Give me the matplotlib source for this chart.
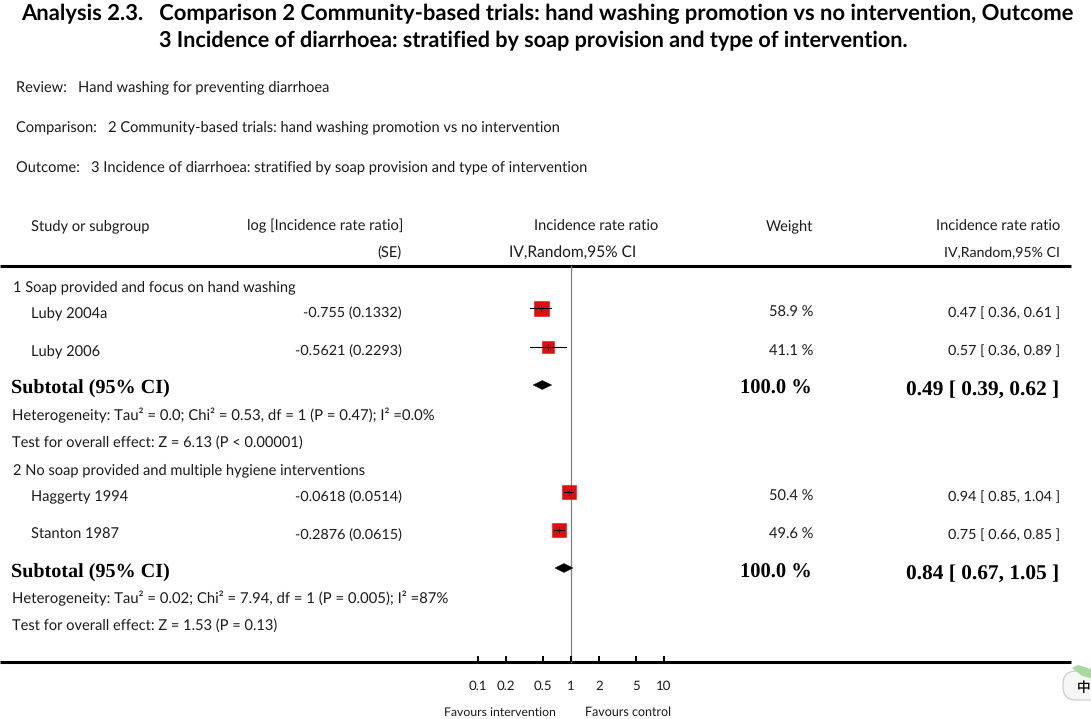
import numpy as np
import matplotlib
matplotlib.use("Agg")
import matplotlib.pyplot as plt
from matplotlib.patches import FancyBboxPatch, Polygon
from matplotlib.transforms import Affine2D

plt.rcParams["text.hinting"] = "no_hinting"

W, H = 1091, 719
SANS = "Lato"
SERIF = "Liberation Serif"

title_lines = ["Analysis 2.3.   Comparison 2 Community-based trials: hand washing promotion vs no intervention, Outcome",
               "3 Incidence of diarrhoea: stratified by soap provision and type of intervention."]
title_sizes = [15.8, 15.6]
studies = ["Luby 2004a", "Luby 2006", "Haggerty 1994", "Stanton 1987"]
log_se = ["-0.755 (0.1332)", "-0.5621 (0.2293)", "-0.0618 (0.0514)", "-0.2876 (0.0615)"]
ratio = [0.47, 0.57, 0.94, 0.75]
ci_low = [0.36, 0.36, 0.85, 0.66]
ci_high = [0.61, 0.89, 1.04, 0.85]
weights = ["58.9 %", "41.1 %", "50.4 %", "49.6 %"]
ci_text = ["0.47 [ 0.36, 0.61 ]", "0.57 [ 0.36, 0.89 ]", "0.94 [ 0.85, 1.04 ]", "0.75 [ 0.66, 0.85 ]"]
sub_ratio = [0.49, 0.84]
sub_low = [0.39, 0.67]
sub_high = [0.62, 1.05]
sub_text = ["0.49 [ 0.39, 0.62 ]", "0.84 [ 0.67, 1.05 ]"]
ticks = [0.1, 0.2, 0.5, 1, 2, 5, 10]
tick_labels = ["0.1", "0.2", "0.5", "1", "2", "5", "10"]

fig = plt.figure(figsize=(W / 100, H / 100), dpi=100, facecolor="white")
ax = fig.add_axes([0, 0, 1, 1])
PX = 92.75
X1 = 571
ax.set_xscale("log")
ax.set_xlim(10 ** ((0 - X1) / PX), 10 ** ((W - X1) / PX))
ax.set_ylim(H, 0)
ax.axis("off")
px = Affine2D().scale(1, -1).translate(0, H)  # pixel coords, y downward


def t(x, y, s, ha="left", size=10.55, weight="normal", family=SANS, color="#1a1a1a"):
    ax.text(x, y + 0.34 * size * 100 / 72, s, transform=px, ha=ha, va="baseline", fontsize=size,
            fontweight=weight, family=family, color=color)


for line, x, y, sz in zip(title_lines, (21, 159), (13, 40), title_sizes):
    t(x, y, line, size=sz, weight="bold", color="black")

t(16, 86, "Review:   Hand washing for preventing diarrhoea")
t(16, 126, "Comparison:   2 Community-based trials: hand washing promotion vs no intervention")
t(16, 166, "Outcome:   3 Incidence of diarrhoea: stratified by soap provision and type of intervention")

t(31, 225, "Study or subgroup")
t(403, 225, "log [Incidence rate ratio]", ha="right")
t(402, 252, "(SE)", ha="right")
t(596, 225, "Incidence rate ratio", ha="center")
t(573, 252, "IV,Random,95% CI", ha="center", size=11.2)
t(813, 225, "Weight", ha="right")
t(1060, 225, "Incidence rate ratio", ha="right")
t(1060, 252, "IV,Random,95% CI", ha="right", size=10.2)

t(13, 286, "1 Soap provided and focus on hand washing")
t(13, 469, "2 No soap provided and multiple hygiene interventions")

row_y = [312, 350, 496, 534]
mark_y = [308, 347, 492, 530]
mark_ms = [10.8, 8.6, 10.0, 10.0]
for i in range(4):
    t(31, row_y[i], studies[i])
    t(402, row_y[i], log_se[i], ha="right", size=10.4)
    t(813, row_y[i], weights[i], ha="right")
    t(1060, row_y[i], ci_text[i], ha="right", size=10.4)
    ax.plot([ratio[i]], [mark_y[i]], marker="s", ms=mark_ms[i], mfc="#dc1010", mec="#dc1010",
            mew=0.4, zorder=3)
    ax.plot([ci_low[i], ci_high[i]], [mark_y[i]] * 2, color="black", lw=0.8, zorder=4)
    ax.plot([ratio[i]] * 2, [mark_y[i] - 3, mark_y[i] + 3], color="#222222", lw=0.6, zorder=4)

sub_y = [387, 571]
dia_y = [385, 568]
for i in range(2):
    t(11, sub_y[i], "Subtotal (95% CI)", size=14.5, weight="bold", family=SERIF, color="black")
    t(812, sub_y[i], "100.0 %", ha="right", size=14.8, weight="bold", family=SERIF, color="black")
    t(1059, sub_y[i], sub_text[i], ha="right", size=15.4, weight="bold", family=SERIF, color="black")
    ax.add_patch(Polygon([(sub_low[i], dia_y[i]), (sub_ratio[i], dia_y[i] - 4.5),
                          (sub_high[i], dia_y[i]), (sub_ratio[i], dia_y[i] + 4.5)],
                         closed=True, fc="black", ec="black", lw=0.3, zorder=4))

t(12, 415, "Heterogeneity: Tau² = 0.0; Chi² = 0.53, df = 1 (P = 0.47); I² =0.0%", size=10.7)
t(12, 442, "Test for overall effect: Z = 6.13 (P < 0.00001)", size=10.5)
t(12, 598, "Heterogeneity: Tau² = 0.02; Chi² = 7.94, df = 1 (P = 0.005); I² =87%", size=10.7)
t(12, 625, "Test for overall effect: Z = 1.53 (P = 0.13)", size=10.5)

# rules
ax.plot([0, 1071], [266, 266], transform=px, color="black", lw=2.2, solid_capstyle="butt")
ax.plot([0, 1071], [662, 662], transform=px, color="black", lw=2.2, solid_capstyle="butt")
ax.plot([1, 1], [266, 662], color="#808080", lw=0.9, zorder=2)

# axis ticks
for v, lab in zip(ticks, tick_labels):
    ax.plot([v, v], [656, 662], color="black", lw=1.4, solid_capstyle="butt")
    ax.text(v, 686, lab, ha="center", va="center", fontsize=9.5, family=SANS, color="#1a1a1a")
t(444, 712, "Favours intervention", size=8.8)
t(585, 712, "Favours control", size=9.0)

# corner badge from the screenshot
ax.add_patch(FancyBboxPatch((1063, 671), 50, 29, boxstyle="round,pad=0,rounding_size=13",
                            transform=px, fc="#f6f6f6", ec="#c8c8c8", lw=0.8, zorder=4))
ax.add_patch(Polygon([(1072, 668), (1078, 665), (1091, 669), (1091, 678), (1082, 676)],
                     closed=True, transform=px, fc="#a9d8a0", ec="none", zorder=5))
ax.text(1084, 688, "中", transform=px, ha="center", va="center", fontsize=9.8,
        family="Noto Sans CJK SC", color="black", zorder=6)

fig.savefig("out.png", dpi=100)
